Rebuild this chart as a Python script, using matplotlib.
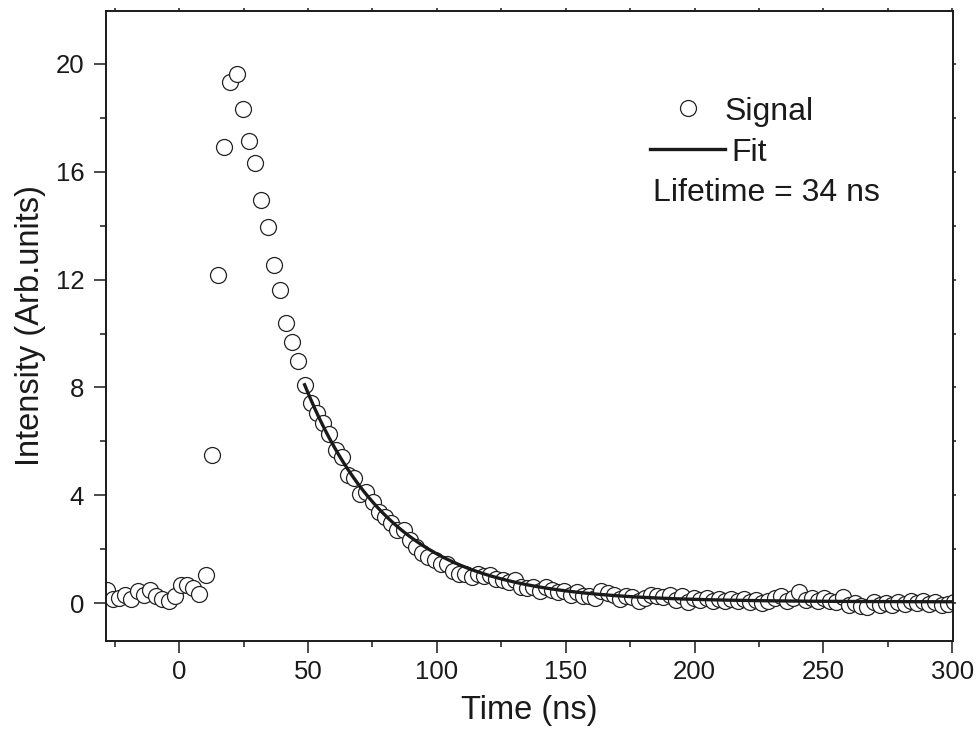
import matplotlib
matplotlib.use("Agg")
import matplotlib.pyplot as plt
from matplotlib.lines import Line2D, TICKUP, TICKRIGHT
from matplotlib.ticker import MultipleLocator
import numpy as np

plt.rcParams['font.family'] = ['Liberation Sans', 'DejaVu Sans']

# Time axis (ns), sampled every 2.4 ns
time_ns = [-28.1, -25.7, -23.3, -20.9, -18.5, -16.1, -13.7, -11.3, -8.9, -6.5,
           -4.1, -1.7, 0.7, 3.1, 5.5, 7.9, 10.3, 12.7, 15.1, 17.5,
           19.9, 22.3, 24.7, 27.1, 29.5, 31.9, 34.3, 36.7, 39.1, 41.5,
           43.9, 46.3, 48.7, 51.1, 53.5, 55.9, 58.3, 60.7, 63.1, 65.5,
           67.9, 70.3, 72.7, 75.1, 77.5, 79.9, 82.3, 84.7, 87.1, 89.5,
           91.9, 94.3, 96.7, 99.1, 101.5, 103.9, 106.3, 108.7, 111.1, 113.5,
           115.9, 118.3, 120.7, 123.1, 125.5, 127.9, 130.3, 132.7, 135.1, 137.5,
           139.9, 142.3, 144.7, 147.1, 149.5, 151.9, 154.3, 156.7, 159.1, 161.5,
           163.9, 166.3, 168.7, 171.1, 173.5, 175.9, 178.3, 180.7, 183.1, 185.5,
           187.9, 190.3, 192.7, 195.1, 197.5, 199.9, 202.3, 204.7, 207.1, 209.5,
           211.9, 214.3, 216.7, 219.1, 221.5, 223.9, 226.3, 228.7, 231.1, 233.5,
           235.9, 238.3, 240.7, 243.1, 245.5, 247.9, 250.3, 252.7, 255.1, 257.5,
           259.9, 262.3, 264.7, 267.1, 269.5, 271.9, 274.3, 276.7, 279.1, 281.5,
           283.9, 286.3, 288.7, 291.1, 293.5, 295.9, 298.3, 300.7]

signal = [0.48, 0.17, 0.21, 0.30, 0.14, 0.46, 0.30, 0.48, 0.26, 0.17,
          0.07, 0.26, 0.67, 0.69, 0.58, 0.36, 1.03, 5.49, 12.17, 16.93,
          19.34, 19.63, 18.32, 17.15, 16.34, 14.95, 13.94, 12.53, 11.61, 10.40,
          9.67, 8.98, 8.09, 7.43, 7.04, 6.67, 6.27, 5.70, 5.41, 4.75,
          4.65, 4.04, 4.13, 3.76, 3.39, 3.20, 2.96, 2.73, 2.71, 2.34,
          2.09, 1.87, 1.72, 1.62, 1.47, 1.45, 1.20, 1.08, 1.10, 0.98,
          1.10, 1.02, 1.05, 0.90, 0.86, 0.78, 0.85, 0.62, 0.55, 0.60,
          0.45, 0.62, 0.50, 0.40, 0.45, 0.30, 0.42, 0.25, 0.28, 0.20,
          0.45, 0.38, 0.30, 0.15, 0.28, 0.22, 0.10, 0.18, 0.32, 0.28,
          0.22, 0.30, 0.12, 0.26, 0.05, 0.20, 0.12, 0.18, 0.10, 0.16,
          0.08, 0.14, 0.07, 0.15, 0.05, 0.12, 0.02, 0.10, 0.20, 0.28,
          0.08, 0.18, 0.40, 0.12, 0.20, 0.08, 0.18, 0.10, 0.05, 0.22,
          -0.05, 0.02, -0.10, -0.15, 0.05, -0.05, 0.02, -0.08, 0.05, -0.02,
          0.08, 0.02, 0.10, -0.02, 0.05, -0.05, -0.02, 0.05]

# Single-exponential fit parameters
fit_t0 = 48.7
fit_A = 8.05
fit_y0 = 0.05
fit_tau = 34.0
fit_tend = 300.0

x_ticks = [0, 50, 100, 150, 200, 250, 300]
y_ticks = [0, 4, 8, 12, 16, 20]

INK = '#1a1a1a'

fig = plt.figure(figsize=(9.77, 7.29), dpi=100)
ax = fig.add_axes([105.7/977, 1 - 641/729, 847/977, 630.3/729])

ax.plot(time_ns, signal, linestyle='none', marker='o', markersize=11.5,
        markerfacecolor='white', markeredgecolor='#222222', markeredgewidth=0.9,
        zorder=2, clip_on=True)

t_fit = np.linspace(fit_t0, fit_tend, 400)
y_fit = fit_y0 + fit_A * np.exp(-(t_fit - fit_t0) / fit_tau)
ax.plot(t_fit, y_fit, color=INK, linewidth=2.4, zorder=3)

ax.set_xlim(-28.5, 300.2)
ax.set_ylim(-1.4, 21.97)
ax.set_xticks(x_ticks)
ax.set_yticks(y_ticks)
ax.xaxis.set_minor_locator(MultipleLocator(25))
ax.yaxis.set_minor_locator(MultipleLocator(2))

for s in ax.spines.values():
    s.set_linewidth(1.4)
    s.set_color(INK)

ax.tick_params(axis='both', which='major', direction='out', length=8.5, width=1.1,
               labelsize=18.5, color=INK, labelcolor=INK)
ax.tick_params(axis='both', which='minor', direction='out', length=4.5, width=1.1,
               color=INK)
ax.tick_params(axis='x', which='major', pad=5)
ax.tick_params(axis='y', which='major', pad=7)
ax.tick_params(axis='x', which='both', top=True, labeltop=False)
ax.tick_params(axis='y', which='both', right=True, labelright=False)

# very short outward ticks on top/right
for tk in ax.xaxis.get_major_ticks() + ax.xaxis.get_minor_ticks():
    tk.tick2line.set_marker(TICKUP)
    tk.tick2line.set_markersize(2)
for tk in ax.yaxis.get_major_ticks() + ax.yaxis.get_minor_ticks():
    tk.tick2line.set_marker(TICKRIGHT)
    tk.tick2line.set_markersize(2)

ax.set_xlabel('Time (ns)', fontsize=23.5, color=INK, labelpad=8)
ax.set_ylabel('Intensity (Arb.units)', fontsize=23.5, color=INK, labelpad=7)

# Legend / annotation drawn in axes coordinates
ax.add_line(Line2D([0.6875], [0.8457], transform=ax.transAxes, marker='o',
                   markersize=11.5, markerfacecolor='white',
                   markeredgecolor='#222222', markeredgewidth=0.9, linestyle='none'))
ax.text(0.731, 0.8266, 'Signal', transform=ax.transAxes, fontsize=23,
        va='baseline', ha='left', color=INK)
ax.add_line(Line2D([0.6426, 0.7311], [0.7806, 0.7806], transform=ax.transAxes,
                   color=INK, linewidth=2.4))
ax.text(0.739, 0.7615, 'Fit', transform=ax.transAxes, fontsize=23,
        va='baseline', ha='left', color=INK)
ax.text(0.6458, 0.6986, 'Lifetime = 34 ns', transform=ax.transAxes, fontsize=23,
        va='baseline', ha='left', color=INK)

fig.savefig('out.png', dpi=100)
